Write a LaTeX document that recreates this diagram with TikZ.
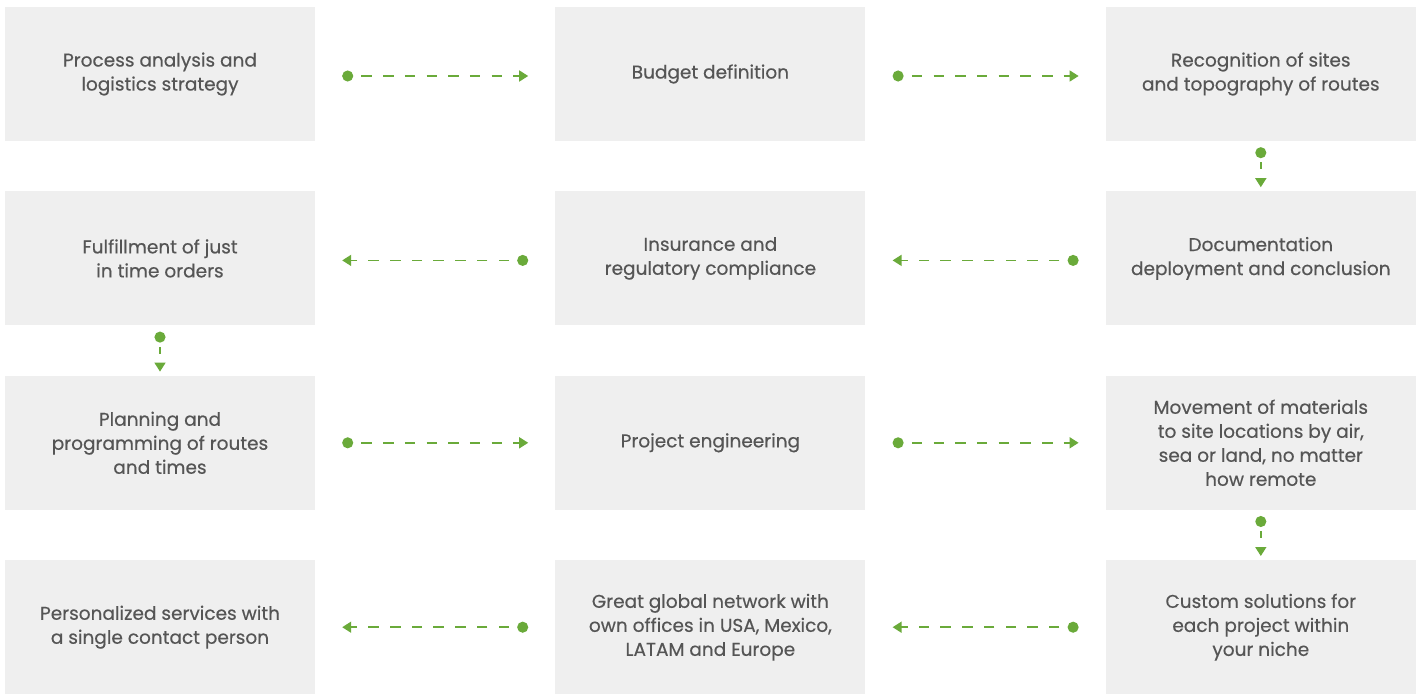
\documentclass[tikz,border=0pt]{standalone}
\usepackage{fontspec}
\setmainfont{Poppins}[FakeBold=0.4]
\usetikzlibrary{arrows.meta, positioning}

\definecolor{boxgray}{HTML}{EFEFEF}
\definecolor{leafgreen}{HTML}{6AAA3A}
\definecolor{textgray}{HTML}{555555}

\begin{document}
\begin{tikzpicture}[x=1pt, y=1pt,
		stage/.style={rectangle, fill=boxgray, text=textgray, minimum width=310pt, minimum height=134pt, inner sep=0pt, align=center, font=\fontsize{18.5}{24}\selectfont},
		flow/.style={leafgreen, line width=1.6pt, {Circle[length=11pt]}-{Triangle[length=9pt, width=11pt]}},
		hflow/.style={flow, dash pattern=on 10.5pt off 11.2pt, dash phase=12.7pt, shorten <=27pt, shorten >=27pt},
		vflow/.style={flow, dash pattern=on 7pt off 11pt, dash phase=13pt, shorten <=6pt, shorten >=4pt}]
		
		\useasboundingbox (0,0) rectangle (1418,-693);
		
		% first row
		\node[stage] (PA) at (160,-74) {Process analysis and\\logistics strategy};
		\node[stage, right=240pt of PA] (BD) {Budget definition};
		\node[stage, right=240pt of BD] (RS) {Recognition of sites\\and topography of routes};
		
		% second row
		\node[stage, below=50pt of RS] (DC) {Documentation\\deployment and conclusion};
		\node[stage, below=50pt of BD] (IR) {Insurance and\\regulatory compliance};
		\node[stage, below=50pt of PA] (FJ) {Fulfillment of just\\in time orders};
		
		% third row
		\node[stage, below=50pt of FJ] (PP) {Planning and\\programming of routes\\and times};
		\node[stage, below=50pt of IR] (PE) {Project engineering};
		\node[stage, below=50pt of DC] (MM) {Movement of materials\\to site locations by air,\\sea or land, no matter\\how remote};
		
		% fourth row
		\node[stage, below=50pt of MM] (CS) {Custom solutions for\\each project within\\your niche};
		\node[stage, below=50pt of PE] (GN) {Great global network with\\own offices in USA, Mexico,\\LATAM and Europe};
		\node[stage, below=50pt of PP] (PS) {Personalized services with\\a single contact person};
		
		\draw[hflow] ([yshift=-2pt]PA.east) -- ([yshift=-2pt]BD.west);
		\draw[hflow] ([yshift=-2pt]BD.east) -- ([yshift=-2pt]RS.west);
		\draw[vflow] (RS.south) -- (DC.north);
		\draw[hflow] ([yshift=-2pt]DC.west) -- ([yshift=-2pt]IR.east);
		\draw[hflow] ([yshift=-2pt]IR.west) -- ([yshift=-2pt]FJ.east);
		\draw[vflow] (FJ.south) -- (PP.north);
		\draw[hflow] (PP.east) -- (PE.west);
		\draw[hflow] (PE.east) -- (MM.west);
		\draw[vflow] (MM.south) -- (CS.north);
		\draw[hflow] (CS.west) -- (GN.east);
		\draw[hflow] (GN.west) -- (PS.east);
		
	\end{tikzpicture}
\end{document}
